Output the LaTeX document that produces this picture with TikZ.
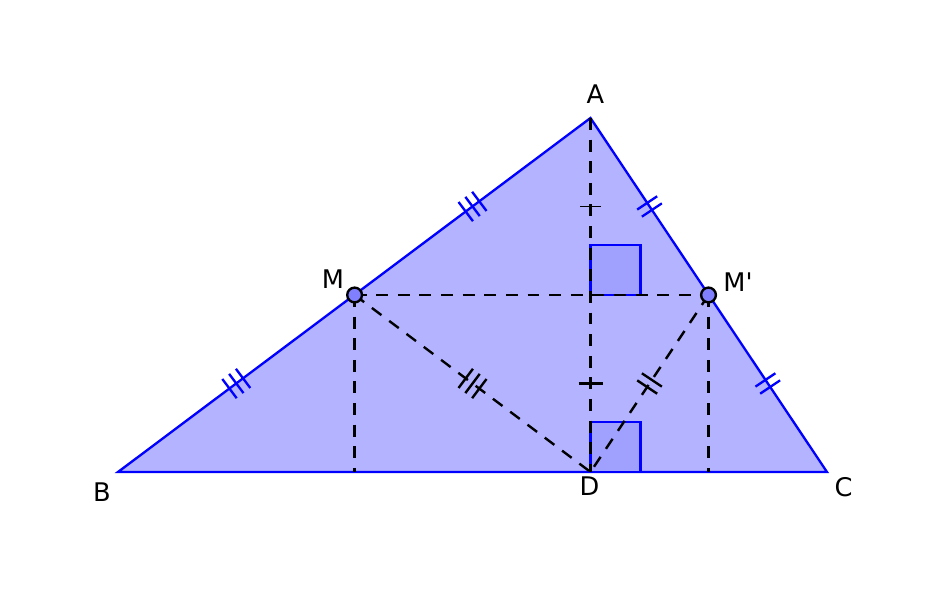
\documentclass[tikz,border=0pt]{standalone}
\usepackage{fontspec}
\setmainfont{DejaVu Sans}
\usetikzlibrary{arrows}

\definecolor{trifill}{HTML}{B3B3FF}
\definecolor{anglefill}{HTML}{A0A0FF}
\definecolor{ptfill}{HTML}{8080FF}

\tikzset{
  side/.style={draw=blue,line width=0.66pt,line join=miter},
  hidden/.style={draw=black,line width=0.68pt,dash pattern=on 3.4pt off 2.75pt},
  rightangle/.style={draw=blue,fill=anglefill,line width=0.66pt},
  point/.style={circle,draw=black,fill=ptfill,line width=0.68pt,inner sep=0pt,minimum size=4.2pt},
  lab/.style={font=\fontsize{7.3pt}{8pt}\selectfont,inner sep=0pt},
  bluetick/.style={draw=blue,line width=0.66pt},
  blacktick/.style={draw=black,line width=0.68pt},
  hash/.pic={
    \foreach \k in {1,...,#1}
      \draw[pic actions] ({(\k-(#1+1)/2)*0.085},-0.12) -- ({(\k-(#1+1)/2)*0.085},0.12);
  }
}

\begin{document}
\begin{tikzpicture}
\useasboundingbox (0,0) rectangle (9.44,5.92);

\coordinate (A) at (5.905,4.74);
\coordinate (B) at (1.18,1.20);
\coordinate (C) at (8.27,1.20);
\coordinate (D) at (5.905,1.20);
\coordinate (H) at (5.905,2.97);
\coordinate (P) at (3.546,1.20);
\coordinate (Q) at (7.085,1.20);
\coordinate (M) at (3.546,2.97);
\coordinate (Mp) at (7.085,2.97);

  \path [side,fill=trifill] (A) -- (B) -- (C) -- cycle;
  \path [rightangle] (H) rectangle ++(0.5,0.5);
  \path [rightangle] (D) rectangle ++(0.5,0.5);

  % dashed lines
  \path [hidden] (M) edge (Mp);
  \path [hidden] (M) edge (P);
  \path [hidden] (Mp) edge (Q);
  \path [hidden] (M) edge (D);
  \path [hidden] (Mp) edge (D);
  \path [hidden] (A) edge (D);

  % equal lengths
  \path (M) -- (A) pic [midway,sloped,bluetick] {hash=3};
  \path (B) -- (M) pic [midway,sloped,bluetick] {hash=3};
  \path (A) -- (Mp) pic [midway,sloped,bluetick] {hash=2};
  \path (Mp) -- (C) pic [midway,sloped,bluetick] {hash=2};
  \path (M) -- (D) pic [midway,sloped,blacktick] {hash=3};
  \path (Mp) -- (D) pic [midway,sloped,blacktick] {hash=2};
  \path (A) -- (H) pic [midway,sloped,draw=black,line width=0.35pt,scale=0.85] {hash=1};
  \path (H) -- (D) pic [midway,sloped,blacktick] {hash=1};

\node[point] (m1) at (M) {};
\node[point] (m2) at (Mp) {};

\node[lab] (la) at (5.955,4.98) {A};
\node[lab] (lb) at (1.02,1.00) {B};
\node[lab] (lc) at (8.435,1.05) {C};
\node[lab] (ld) at (5.895,1.06) {D};
\node[lab] (lm) at (3.33,3.13) {M};
\node[lab] (lmp) at (7.38,3.10) {M\textquotesingle};

\end{tikzpicture}
\end{document}
